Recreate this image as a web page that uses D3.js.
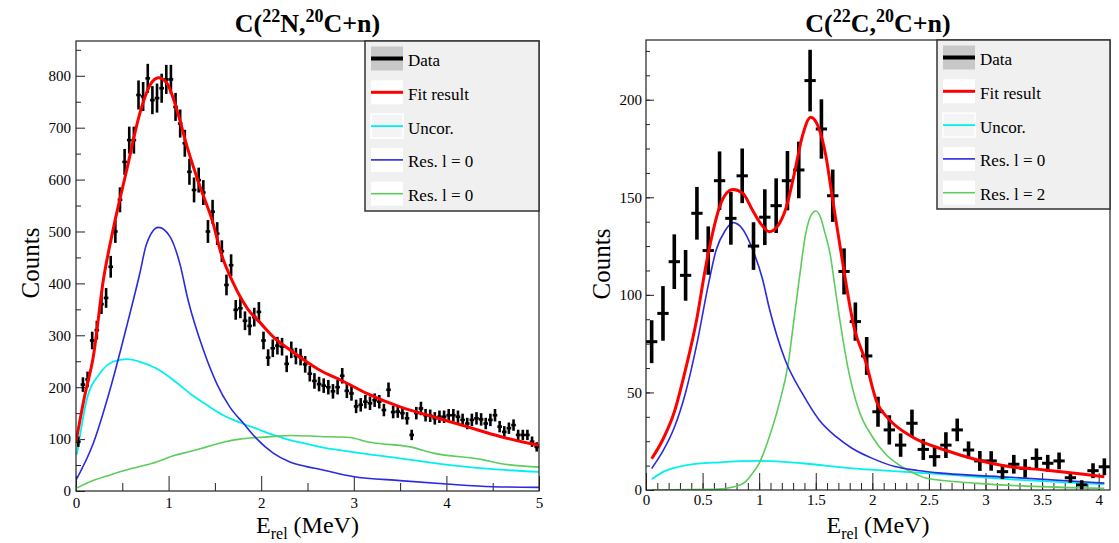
<!DOCTYPE html>
<html>
<head>
<meta charset="utf-8">
<script src="https://cdn.jsdelivr.net/npm/d3@7"></script>
<style>
  body { margin: 0; background: #fff; }
  svg text { font-family: "Liberation Serif", "Times New Roman", serif; fill: #000; }
</style>
</head>
<body>
<svg id="chart" width="1119" height="543"></svg>
<script>
// ---------- left panel : C(22N,20C+n) ----------
const leftBinCenters = [
  0.025,0.075,0.125,0.175,0.225,0.275,0.325,0.375,0.425,0.475,
  0.525,0.575,0.625,0.675,0.725,0.775,0.825,0.875,0.925,0.975,
  1.025,1.075,1.125,1.175,1.225,1.275,1.325,1.375,1.425,1.475,
  1.525,1.575,1.625,1.675,1.725,1.775,1.825,1.875,1.925,1.975,
  2.025,2.075,2.125,2.175,2.225,2.275,2.325,2.375,2.425,2.475,
  2.525,2.575,2.625,2.675,2.725,2.775,2.825,2.875,2.925,2.975,
  3.025,3.075,3.125,3.175,3.225,3.275,3.325,3.375,3.425,3.475,
  3.525,3.575,3.625,3.675,3.725,3.775,3.825,3.875,3.925,3.975,
  4.025,4.075,4.125,4.175,4.225,4.275,4.325,4.375,4.425,4.475,
  4.525,4.575,4.625,4.675,4.725,4.775,4.825,4.875,4.925,4.975
];
const leftCounts = [
  95,205,215,290,310,360,372,432,500,561,
  634,676,676,763,760,795,753,757,776,793,
  793,740,708,670,615,580,599,575,500,538,
  496,462,397,435,349,352,328,318,335,345,
  290,257,275,280,278,245,272,260,258,244,
  226,212,206,203,200,192,200,222,193,188,
  163,166,172,169,175,172,156,195,152,153,
  150,140,108,150,159,146,145,140,143,143,
  146,146,143,137,130,137,140,138,130,137,
  146,124,114,121,127,108,108,108,95,85
];
const leftErrors = [
  10,14,15,17,18,19,19,21,22,24,
  25,26,26,28,28,28,27,28,28,28,
  28,27,27,26,25,24,24,24,22,23,
  22,21,20,21,19,19,18,18,18,19,
  17,16,17,17,17,16,16,16,16,16,
  15,15,14,14,14,14,14,15,14,14,
  13,13,13,13,13,13,12,14,12,12,
  12,12,10,12,13,12,12,12,12,12,
  12,12,12,12,11,12,12,12,11,12,
  12,11,11,11,11,10,10,10,10,9
];
const leftFit = [[0,95],[0.09,180],[0.187,259],[0.295,406],[0.4,503],[0.547,618],[0.69,728],
  [0.8,782],[0.89,796],[0.98,786],[1.09,734],[1.2,663],[1.34,586],[1.48,516],[1.56,462],
  [1.7,400],[1.85,352],[2.0,322],[2.13,297],[2.31,272],[2.49,249],[2.63,233],[2.89,211],
  [3.14,188],[3.5,162],[3.86,143],[4.22,124],[4.58,105],[5.0,88]];
const leftUncor = [[0.01,70],[0.115,175],[0.26,227],[0.4,249],[0.547,254],[0.69,249],[0.87,236],
  [1.05,214],[1.23,188],[1.41,166],[1.59,146],[1.77,132],[1.95,120],[2.13,108],[2.31,98],
  [2.49,91],[2.63,85],[2.96,76],[3.5,63],[4.04,50],[4.58,41],[5.0,37]];
const leftRes1 = [[0.0,21],[0.187,92],[0.367,195],[0.547,317],[0.69,420],[0.76,475],[0.89,508],
  [1.015,490],[1.12,439],[1.21,368],[1.375,272],[1.52,207],[1.66,162],[1.81,130],[1.95,101],
  [2.13,73],[2.31,56],[2.49,47],[2.63,42],[2.99,28],[3.5,20],[4.0,13.5],[4.5,8.3],[5.0,7]];
const leftRes2 = [[0.0,5],[0.115,15],[0.37,31],[0.55,41],[0.73,49],[0.87,56],[1.05,68],[1.23,76],
  [1.41,85],[1.59,94],[1.77,100],[1.95,103],[2.13,105],[2.31,107],[2.63,105],[2.96,103],
  [3.14,95],[3.25,92],[3.61,85],[3.86,73],[4.4,60],[4.58,53],[5.0,46]];
const leftXTicks = [0, 1, 2, 3, 4, 5];
const leftYTicks = [0, 100, 200, 300, 400, 500, 600, 700, 800];
const leftLegend = ["Data", "Fit result", "Uncor.", "Res. l = 0", "Res. l = 0"];

// ---------- right panel : C(22C,20C+n) ----------
const rightBinCenters = [
  0.05,0.15,0.25,0.35,0.45,0.55,0.65,0.75,0.85,0.95,
  1.05,1.15,1.25,1.35,1.45,1.55,1.65,1.75,1.85,1.95,
  2.05,2.15,2.25,2.35,2.45,2.55,2.65,2.75,2.85,2.95,
  3.05,3.15,3.25,3.35,3.45,3.55,3.65,3.75,3.85,3.95,4.05
];
const rightCounts = [
  76,90.5,117,110,141.8,122.7,158.5,139.2,161,125,
  139.8,145.7,158.5,164,209.8,185,150.8,112,86.3,68.7,
  40.1,30.8,23,34.2,20.8,17.1,23,30.8,20.5,14.9,
  14.9,9.4,13.2,11.1,16.2,13.7,14.9,6.3,2.6,9.9,11.9
];
const rightErrors = [
  11,14,14,13,13.5,12.4,15,13.5,14,12.2,
  14.3,14,15.2,14.5,15.8,15.2,13.4,11.8,9.8,9.7,
  7.7,7.5,6,7,5.4,5.1,6.6,5.8,4.4,5.1,
  5,3.8,4.8,4.7,5.1,4.3,4.3,2.6,2.4,3.8,4.3
];
const rightFit = [[0.05,16],[0.15,26],[0.25,40],[0.35,62],[0.45,88],[0.52,112],[0.59,132],[0.65,145],
  [0.71,152],[0.77,154],[0.856,152],[0.94,143.5],[1.02,136],[1.09,132.4],[1.16,135],[1.24,145],
  [1.31,162],[1.38,181],[1.456,191],[1.53,185],[1.59,171],[1.646,150],[1.72,123],[1.84,83],
  [1.94,66],[2.04,45],[2.14,36.7],[2.35,27.3],[2.64,20.5],[2.93,15.4],[3.22,11.9],[3.52,10.3],
  [3.81,8.5],[4.05,6.8]];
const rightUncor = [[0.05,5.5],[0.155,9.4],[0.36,12.8],[0.65,14.2],[1.0,14.9],[1.38,13.7],[1.82,11.1],
  [2.05,10.2],[2.4,8.9],[2.64,8],[3.22,5.5],[4.05,3.0]];
const rightRes1 = [[0.05,11],[0.15,20],[0.25,32],[0.35,50],[0.45,75],[0.55,105],[0.62,123],[0.7,133],
  [0.77,137],[0.85,134],[0.944,123],[1.03,108],[1.09,93],[1.23,66.6],[1.38,49.6],[1.53,35.9],
  [1.68,27.3],[1.82,21.4],[2.0,16.2],[2.2,12],[2.4,10],[2.64,8.5],[3.22,6.5],[4.05,3.5]];
const rightRes2 = [[0.05,0],[0.6,0.3],[0.76,1.4],[0.88,4.3],[0.94,8.5],[1.0,13.7],[1.09,27.3],
  [1.17,42.7],[1.26,66],[1.3,84],[1.354,108],[1.41,131],[1.46,141],[1.5,143],[1.54,140],
  [1.58,132],[1.63,120],[1.66,108],[1.7,92],[1.79,61],[1.88,41],[2.0,27.3],[2.11,18.8],
  [2.26,11.9],[2.4,7.7],[2.48,6],[2.93,3.4],[3.36,2],[4.05,0.9]];
const rightXTicks = [0, 0.5, 1, 1.5, 2, 2.5, 3, 3.5, 4];
const rightYTicks = [0, 50, 100, 150, 200];
const rightLegend = ["Data", "Fit result", "Uncor.", "Res. l = 0", "Res. l = 2"];

const colors = { data: "#000", fit: "#ff0000", uncor: "#00f0f0", res1: "#2a2ae0", res2: "#5ccc5c" };

const svg = d3.select("#chart");

function drawPanel(p) {
  const x = d3.scaleLinear().domain([0, p.xMax]).range([p.left, p.right]);
  const y = d3.scaleLinear().domain([0, p.yMax]).range([p.bottom, p.top]);
  const g = svg.append("g");

  const clipId = "clip-" + p.id;
  g.append("clipPath").attr("id", clipId).append("rect")
      .attr("x", p.left).attr("y", p.top)
      .attr("width", p.right - p.left).attr("height", p.bottom - p.top);

  // axes with ticks drawn inside the frame
  g.append("g").attr("transform", "translate(0," + p.bottom + ")")
      .call(d3.axisBottom(x).tickValues(p.xMinor).tickSize(-p.xMinorLen).tickFormat(""))
      .call(a => a.select(".domain").remove());
  g.append("g").attr("transform", "translate(0," + p.bottom + ")")
      .call(d3.axisBottom(x).tickValues(p.xTicks).tickSize(-p.xMajorLen).tickPadding(p.xPad)
          .tickFormat(d3.format("")))
      .call(a => a.select(".domain").remove())
      .call(a => a.selectAll("text").attr("font-size", 15).style("font-family", "Liberation Serif"));
  g.append("g").attr("transform", "translate(" + p.left + ",0)")
      .call(d3.axisLeft(y).tickValues(p.yMinor).tickSize(-p.yMinorLen).tickFormat(""))
      .call(a => a.select(".domain").remove());
  g.append("g").attr("transform", "translate(" + p.left + ",0)")
      .call(d3.axisLeft(y).tickValues(p.yTicks).tickSize(-p.yMajorLen).tickPadding(p.yPad))
      .call(a => a.select(".domain").remove())
      .call(a => a.selectAll("text").attr("font-size", 15).style("font-family", "Liberation Serif"));
  g.selectAll(".tick line").attr("stroke", "#222");

  const plot = g.append("g").attr("clip-path", "url(#" + clipId + ")");
  const line = d3.line().x(d => x(d[0])).y(d => y(d[1])).curve(d3.curveMonotoneX);

  plot.append("path").datum(p.uncor).attr("d", line)
      .attr("fill", "none").attr("stroke", colors.uncor).attr("stroke-width", 1.8);
  plot.append("path").datum(p.res2).attr("d", line)
      .attr("fill", "none").attr("stroke", colors.res2).attr("stroke-width", 1.6);
  plot.append("path").datum(p.res1).attr("d", line)
      .attr("fill", "none").attr("stroke", colors.res1).attr("stroke-width", 1.6);

  // data points with error bars
  const pts = plot.selectAll(".pt").data(p.centers.map((c, i) => ({ e: c, v: p.counts[i], err: p.errors[i] })))
      .enter().append("g").attr("class", "pt");
  pts.append("line")
      .attr("x1", d => x(d.e)).attr("x2", d => x(d.e))
      .attr("y1", d => y(Math.max(0, d.v - d.err))).attr("y2", d => y(d.v + d.err))
      .attr("stroke", colors.data).attr("stroke-width", p.vWidth);
  pts.append("line")
      .attr("x1", d => x(d.e - p.binW / 2)).attr("x2", d => x(d.e + p.binW / 2))
      .attr("y1", d => y(d.v)).attr("y2", d => y(d.v))
      .attr("stroke", colors.data).attr("stroke-width", p.hWidth);

  plot.append("path").datum(p.fit).attr("d", line)
      .attr("fill", "none").attr("stroke", colors.fit).attr("stroke-width", 3);

  // frame
  g.append("rect").attr("x", p.left).attr("y", p.top)
      .attr("width", p.right - p.left).attr("height", p.bottom - p.top)
      .attr("fill", "none").attr("stroke", "#222").attr("stroke-width", 1.2);

  // legend
  const lg = g.append("g");
  lg.append("rect").attr("x", p.legX).attr("y", p.top)
      .attr("width", p.right - p.legX).attr("height", p.legH)
      .attr("fill", "#f0f0f0").attr("stroke", "#333").attr("stroke-width", 1.5);
  const styles = [
    { box: "#c8c8c8", col: colors.data, w: 4 },
    { box: "#fff", col: colors.fit, w: 3 },
    { box: "#f4f4f4", col: colors.uncor, w: 1.8, edge: "#fff" },
    { box: "#fff", col: colors.res1, w: 1.6 },
    { box: "#fff", col: colors.res2, w: 1.6 }
  ];
  p.legend.forEach((label, i) => {
    const cy = p.top + 17.5 + i * 33.8;
    lg.append("rect").attr("x", p.legX + 6).attr("y", cy - 12).attr("width", 32).attr("height", 24)
        .attr("fill", styles[i].box).attr("stroke", styles[i].edge || "none").attr("stroke-width", 1.5);
    lg.append("line").attr("x1", p.legX + 6).attr("x2", p.legX + 38).attr("y1", cy).attr("y2", cy)
        .attr("stroke", styles[i].col).attr("stroke-width", styles[i].w);
    lg.append("text").attr("x", p.legX + 43).attr("y", cy + 7.5)
        .attr("font-size", 17).text(label);
  });

  // title
  const t = g.append("text").attr("x", (p.left + p.right) / 2).attr("y", 32)
      .attr("text-anchor", "middle").attr("font-size", 26).attr("font-weight", "bold");
  t.append("tspan").text("C(");
  t.append("tspan").attr("font-size", 18).attr("dy", -10).text(p.titleA);
  t.append("tspan").attr("dy", 10).text(p.titleB + ",");
  t.append("tspan").attr("font-size", 18).attr("dy", -10).text("20");
  t.append("tspan").attr("dy", 10).text("C+n)");

  // axis titles
  const xt = g.append("text").attr("x", (p.left + p.right) / 2).attr("y", p.xTitleY)
      .attr("text-anchor", "middle").attr("font-size", 24);
  xt.append("tspan").text("E");
  xt.append("tspan").attr("font-size", 16).attr("dy", 6).text("rel");
  xt.append("tspan").attr("dy", -6).text(" (MeV)");

  g.append("text").attr("transform", "translate(" + p.yTitleX + "," + p.yTitleY + ") rotate(-90)")
      .attr("text-anchor", "middle").attr("font-size", 25).text("Counts");
}

drawPanel({
  id: "left", left: 76, right: 539, top: 41, bottom: 491, xMax: 5, yMax: 867,
  xTicks: leftXTicks, xMinor: d3.range(0.5, 5, 1), yTicks: leftYTicks, yMinor: d3.range(50, 867, 100),
  xMajorLen: 15, xMinorLen: 8, yMajorLen: 9, yMinorLen: 5, xPad: 6, yPad: 5,
  centers: leftBinCenters, counts: leftCounts, errors: leftErrors, binW: 0.05, vWidth: 2.6, hWidth: 2.6,
  fit: leftFit, uncor: leftUncor, res1: leftRes1, res2: leftRes2,
  legend: leftLegend, legX: 365, legH: 170, titleA: "22", titleB: "N",
  xTitleY: 533, yTitleX: 39, yTitleY: 263
});

drawPanel({
  id: "right", left: 646, right: 1110, top: 40, bottom: 490, xMax: 4.1, yMax: 230.6,
  xTicks: rightXTicks, xMinor: d3.range(0.1, 4.1, 0.1), yTicks: rightYTicks, yMinor: d3.range(12.5, 230, 12.5),
  xMajorLen: 17, xMinorLen: 7, yMajorLen: 8, yMinorLen: 4, xPad: 4, yPad: 4,
  centers: rightBinCenters, counts: rightCounts, errors: rightErrors, binW: 0.1, vWidth: 3.6, hWidth: 3,
  fit: rightFit, uncor: rightUncor, res1: rightRes1, res2: rightRes2,
  legend: rightLegend, legX: 937, legH: 169, titleA: "22", titleB: "C",
  xTitleY: 533, yTitleX: 610, yTitleY: 264
});
</script>
</body>
</html>
